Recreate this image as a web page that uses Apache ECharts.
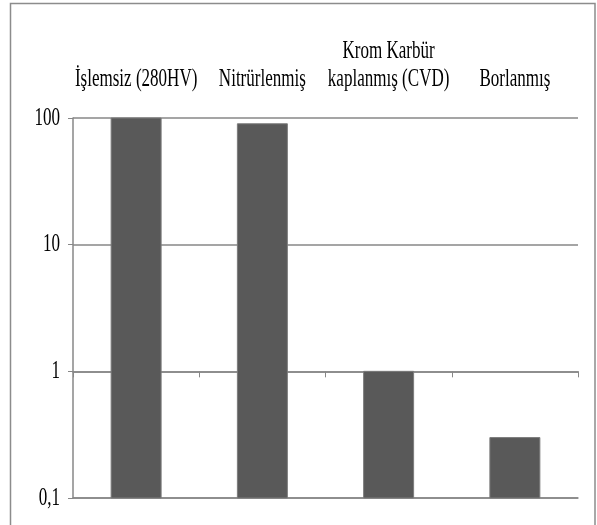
<!DOCTYPE html>
<html>
<head>
<meta charset="utf-8">
<style>
  html, body { margin: 0; padding: 0; background: #fff; }
  #chart { width: 597px; height: 525px; }
</style>
<script src="https://cdn.jsdelivr.net/npm/echarts@6/dist/echarts.min.js"></script>
</head>
<body>
<div id="chart"></div>
<script>
// Treatment categories and their relative wear values (log scale)
const categories = ['İşlemsiz (280HV)', 'Nitrürlenmiş', 'Krom Karbür\nkaplanmış (CVD)', 'Borlanmış'];
const wearValues = [100, 90, 1, 0.3];
const yTicks = [0.1, 1, 10, 100];
const yTickLabels = ['0,1', '1', '10', '100'];
const yMin = 0.1;
const yMax = 100;
const crossValue = 1; // category axis crosses the value axis here

const FONT = '"Liberation Serif", "Times New Roman", serif';
const FONT_SIZE = 26;
const CONDENSE = 0.655; // narrow, tall serif lettering
const GRID_COLOR = '#878787';
const BAR_COLOR = '#595959';

const chart = echarts.init(document.getElementById('chart'));

const plot = { left: 73, right: 19, top: 118, bottom: 27 };
const plotH = 525 - plot.top - plot.bottom;
const crossY = plot.top + plotH * (Math.log10(yMax) - Math.log10(crossValue)) / (Math.log10(yMax) - Math.log10(yMin));

const barData = categories.map((c, i) => [i, wearValues[i]]);

chart.setOption({
  animation: false,
  backgroundColor: '#fff',
  grid: [
    { left: plot.left, right: plot.right, top: plot.top, bottom: plot.bottom },
    { left: plot.left, right: plot.right, top: plot.top, bottom: 525 - crossY }
  ],
  xAxis: [
    {
      type: 'category', gridIndex: 0, data: categories, position: 'bottom',
      axisLine: { show: true, lineStyle: { color: GRID_COLOR, width: 1.5 } },
      axisTick: { show: false }, axisLabel: { show: false }
    },
    {
      type: 'category', gridIndex: 1, data: categories, position: 'bottom',
      axisLine: { show: true, lineStyle: { color: GRID_COLOR, width: 1.5 } },
      axisTick: { show: true, inside: false, length: 6, lineStyle: { color: GRID_COLOR, width: 1 } },
      axisLabel: { show: false }
    }
  ],
  yAxis: [
    {
      type: 'log', gridIndex: 0, logBase: 10, min: yMin, max: yMax,
      axisLine: { show: true, lineStyle: { color: GRID_COLOR, width: 1.5 } },
      axisTick: { show: true, inside: false, length: 5, lineStyle: { color: GRID_COLOR } },
      splitLine: { show: true, lineStyle: { color: GRID_COLOR, width: 1.5 } },
      axisLabel: { show: false }
    },
    { type: 'value', gridIndex: 1, show: false }
  ],
  series: [{
    // bars rise from the bottom of the log axis
    type: 'custom',
    xAxisIndex: 0, yAxisIndex: 0,
    data: barData,
    encode: { x: 0, y: 1 },
    renderItem: function (params, api) {
      const idx = api.value(0);
      const val = api.value(1);
      const top = api.coord([idx, val]);
      const base = api.coord([idx, yMin]);
      const w = api.size([1, 1])[0] * 0.396;
      return {
        type: 'rect',
        shape: { x: top[0] - w / 2, y: top[1], width: w, height: base[1] - top[1] },
        style: { fill: BAR_COLOR, stroke: '#7c7c7c', lineWidth: 1 }
      };
    }
  }]
});

// Text drawn at positions taken from the chart's own axes
const texts = [];
categories.forEach((c, i) => {
  const px = chart.convertToPixel({ xAxisIndex: 0 }, i);
  const lines = c.split('\n');
  lines.forEach((line, k) => {
    const fromBottom = lines.length - 1 - k;
    texts.push({
      type: 'text', x: px, y: plot.top - 39 - fromBottom * 28, scaleX: CONDENSE,
      style: { text: line, fontFamily: FONT, fontSize: FONT_SIZE, fill: '#000',
               textAlign: 'center', textVerticalAlign: 'middle' },
      silent: true
    });
  });
});
yTicks.forEach((v, i) => {
  const py = chart.convertToPixel({ yAxisIndex: 0 }, v);
  texts.push({
    type: 'text', x: 60, y: py, scaleX: CONDENSE,
    style: { text: yTickLabels[i], fontFamily: FONT, fontSize: FONT_SIZE, fill: '#000',
             textAlign: 'right', textVerticalAlign: 'middle' },
    silent: true
  });
});

chart.setOption({
  graphic: [{
    type: 'rect',
    shape: { x: 10.5, y: 3.5, width: 584.5, height: 530 },
    style: { fill: 'none', stroke: '#8c8c8c', lineWidth: 1.5 },
    silent: true
  }].concat(texts)
});
</script>
</body>
</html>
